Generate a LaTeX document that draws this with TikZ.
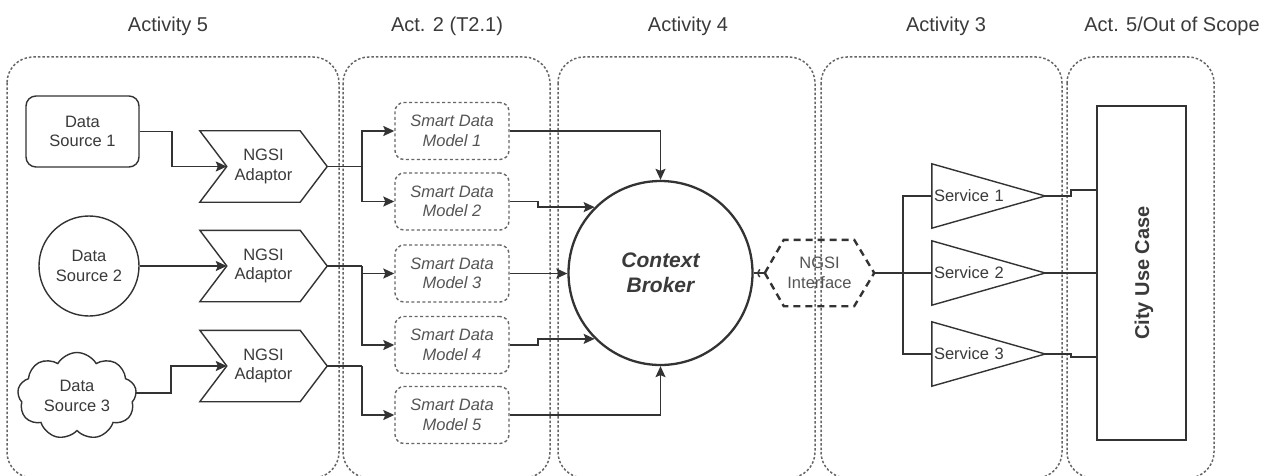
\documentclass[tikz,border=0pt]{standalone}
\usepackage{fontspec}
\setmainfont{Liberation Sans}
\usetikzlibrary{shapes.symbols,arrows.meta}
\definecolor{ln}{HTML}{333333}
\definecolor{tx}{HTML}{3A3A3A}
\definecolor{pn}{HTML}{666666}
\definecolor{sd}{HTML}{555555}
\begin{document}
\begin{tikzpicture}[x=1pt,y=-1pt,
  panel/.style={draw=pn, line width=1.5pt, dash pattern=on 2.5pt off 2pt, rounded corners=26pt},
  ttl/.style={font=\fontsize{20}{24}\selectfont, text=tx},
  lbl/.style={font=\fontsize{16.5}{19.5}\selectfont, text=tx, align=center},
  dsbox/.style={lbl, draw=ln, line width=1.4pt, rounded corners=10pt, minimum width=113pt, minimum height=71pt, inner sep=0pt},
  dscirc/.style={lbl, draw=ln, line width=1.4pt, circle, minimum size=100pt, inner sep=0pt},
  dscloud/.style={lbl, draw=ln, line width=1.4pt, cloud, cloud puffs=9, cloud puff arc=120, aspect=1.4, minimum width=119pt, minimum height=87pt, inner sep=0pt},
  adbox/.style={lbl, minimum width=127pt, minimum height=71pt, inner sep=0pt},
  sdmbox/.style={lbl, text=sd, font=\fontsize{16.5}{19.5}\selectfont\itshape, draw=pn, line width=1.4pt, dash pattern=on 3pt off 2.5pt, rounded corners=9pt, minimum width=114pt, minimum height=57pt, inner sep=0pt},
  svbox/.style={lbl, align=left, minimum width=113pt, minimum height=64pt, text width=109pt, inner sep=2pt},
  shp/.style={draw=ln, line width=1.4pt, line join=miter},
  conn/.style={draw=ln, line width=1.5pt},
  arr/.style={conn, -{Stealth[length=11pt,width=10pt,inset=2pt]}}
]
\useasboundingbox (0,0) rectangle (1271,476);
\clip (0,0) rectangle (1271,476);
\fill[white] (0,0) rectangle (1271,476);

% panels
\draw[panel] (7,57) rectangle (339,478);
\draw[panel] (343,57) rectangle (550,478);
\draw[panel] (558,57) rectangle (815,478);
\draw[panel] (821,57) rectangle (1062,478);
\draw[panel] (1067,57) rectangle (1214,478);

% titles
\node[ttl] (t1) at (168,26) {Activity 5};
\node[ttl] (t2) at (447,26) {Act. 2 (T2.1)};
\node[ttl] (t3) at (688,26) {Activity 4};
\node[ttl] (t4) at (946,26) {Activity 3};
\node[ttl] (t5) at (1172,26) {Act. 5/Out of Scope};

% data sources
\node[dsbox] (ds1) at (82.5,131.5) {Data\\Source 1};
\node[dscirc] (ds2) at (89,266) {Data\\Source 2};
\node[dscloud] (ds3) at (77,396) {Data\\Source 3};

% adaptors
\foreach \n/\yy in {ad1/166.5, ad2/266, ad3/366}{
  \node[adbox] (\n) at (263.5,\yy) {NGSI\\Adaptor};
  \draw[shp] (\n.north west) -- ([xshift=-27pt]\n.north east) -- (\n.east)
     -- ([xshift=-27pt]\n.south east) -- (\n.south west) -- ([xshift=27pt]\n.west) -- cycle;
  \coordinate (\n n) at ([xshift=27pt]\n.west);
}

\coordinate (k1) at (172,131.5);
\coordinate (k3) at (171,393);
\draw[arr] (ds1.east) -- (k1) |- (ad1n);
\draw[arr] (ds2.east) -- (ad2n);
\draw[arr] (ds3.east |- k3) -- (k3) |- (ad3n);

% smart data models
\node[sdmbox] (sdm1) at (452,131) {Smart Data\\Model 1};
\node[sdmbox] (sdm2) at (452,201.5) {Smart Data\\Model 2};
\node[sdmbox] (sdm3) at (452,273.5) {Smart Data\\Model 3};
\node[sdmbox] (sdm4) at (452,345) {Smart Data\\Model 4};
\node[sdmbox] (sdm5) at (452,415) {Smart Data\\Model 5};

\coordinate (j1) at (362,166.5);
\coordinate (j2) at (362,266);
\coordinate (j3) at (362,366);
\draw[conn] (ad1.east) -- (j1);
\draw[arr] (j1) |- (sdm1.west);
\draw[arr] (j1) |- (sdm2.west);
\draw[conn] (ad2.east) -- (j2);
\draw[arr] (j2) |- (sdm3.west);
\draw[arr] (j2) |- (sdm4.west);
\draw[conn] (ad3.east) -- (j3);
\draw[arr] (j3) |- (sdm5.west);

% context broker
\node[circle, draw=ln, line width=2.3pt, minimum size=184pt, inner sep=0pt, align=center,
      font=\fontsize{21}{25}\selectfont\bfseries\itshape, text=tx] (cb) at (660.5,273) {Context\\Broker};

\coordinate (b2) at (538,201.5);
\coordinate (b4) at (538,345);
\draw[arr] (sdm1.east) -| (cb.north);
\draw[arr] (sdm2.east) -- (b2) -- (b2 |- cb.135) -- (cb.135);
\draw[arr] (sdm3.east) -- (sdm3.east -| cb.west);
\draw[arr] (sdm4.east) -- (b4) -- (b4 |- cb.225) -- (cb.225);
\draw[arr] (sdm5.east) -| (cb.south);

% NGSI interface
\node[lbl, text=sd, minimum width=109pt, minimum height=66pt, inner sep=0pt] (hx) at (819.5,273) {NGSI\\Interface};
\draw[draw=ln, line width=2.4pt, dash pattern=on 7pt off 5pt] (hx.west) -- ([xshift=19pt]hx.north west) -- ([xshift=-20pt]hx.north east) -- (hx.east)
  -- ([xshift=-20pt]hx.south east) -- ([xshift=19pt]hx.south west) -- cycle;
\draw[conn] (cb.east) -- (hx.west);
\draw[conn] ([xshift=-5pt,yshift=-4pt]hx.west) arc[start angle=-130, end angle=-230, radius=5pt];

% services
\node[svbox] (s1) at (988.5,196) {Service 1};
\node[svbox] (s2) at (988.5,273) {Service 2};
\node[svbox] (s3) at (988.5,354) {Service 3};
\foreach \n in {s1,s2,s3}{
  \draw[shp] (\n.north west) -- (\n.east) -- (\n.south west) -- cycle;
}
\coordinate (j4) at (903,273);
\draw[conn] (hx.east) -- (j4);
\draw[conn] (j4) |- (s1.west);
\draw[conn] (j4) -- (s2.west);
\draw[conn] (j4) |- (s3.west);

% city use case
\node[draw=ln, line width=1.5pt, minimum width=89pt, minimum height=334pt, inner sep=0pt] (city) at (1141.5,273) {};
\node[rotate=90, font=\fontsize{20}{24}\selectfont\bfseries, text=tx] (citylbl) at (1144,273) {City Use Case};

\coordinate (c1) at (1071,196);
\coordinate (c3) at (1071,354);
\draw[conn] (s1.east) -- (c1) -- (1071,190) -- (city.west |- 0,190);
\draw[conn] (s2.east) -- (city.west |- s2.east);
\draw[conn] (s3.east) -- (c3) -- (1071,357) -- (city.west |- 0,357);
\end{tikzpicture}
\end{document}
